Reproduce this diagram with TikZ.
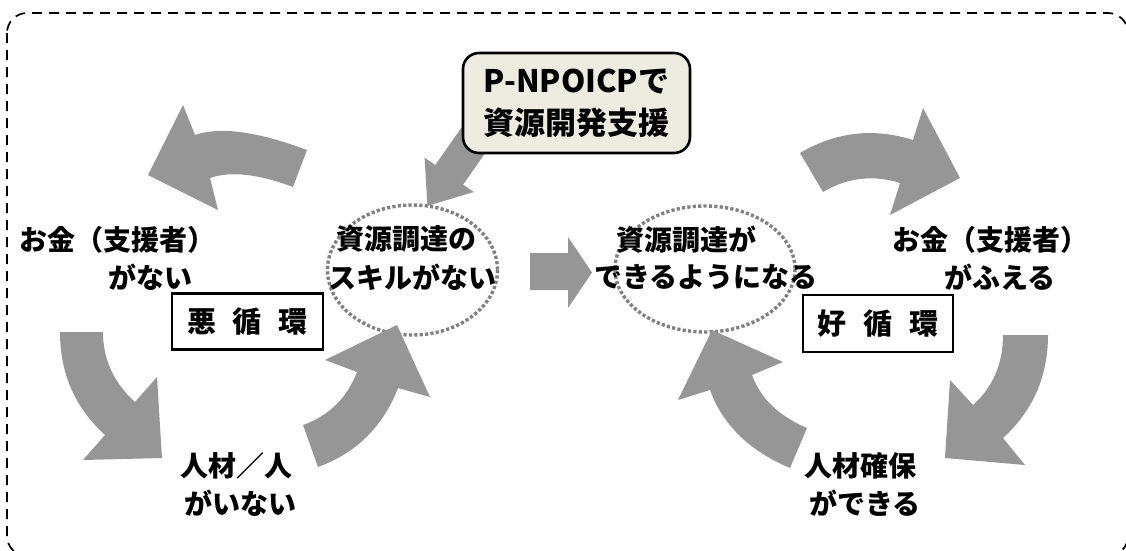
\documentclass[tikz,border=0pt]{standalone}
\usepackage{fontspec}
\setmainfont{Noto Sans CJK JP}
\usetikzlibrary{calc}
\definecolor{arrowgray}{RGB}{150,150,150}
\definecolor{dotgray}{RGB}{128,128,128}
\definecolor{boxbeige}{RGB}{238,236,225}
\newcommand{\qarrow}[9]{%
  \fill[arrowgray] (#1) .. controls ($(#1)!0.6667!(#2)$) and ($(#3)!0.6667!(#2)$) .. (#3)
    -- (#4) -- (#5) -- (#6) -- (#7)
    .. controls ($(#7)!0.6667!(#8)$) and ($(#9)!0.6667!(#8)$) .. (#9) -- cycle;}
\tikzset{
  dotcirc/.style={draw=dotgray, line width=3.4pt, dash pattern=on 3.2pt off 2.2pt},
  lbl/.style={font=\fontsize{28}{30}\selectfont\bfseries, inner sep=0pt, anchor=center},
  cyclebox/.style={draw=black, line width=2.6pt, fill=white, inner sep=0pt,
    font=\fontsize{29}{30}\selectfont\bfseries},
  npobox/.style={draw=black, line width=2.6pt, fill=boxbeige, rounded corners=16pt,
    inner sep=0pt, align=center, font=\fontsize{31}{42}\selectfont\bfseries},
  frame/.style={draw=black, line width=1.7pt, dash pattern=on 10pt off 7pt, rounded corners=20pt}
}
\begin{document}
\begin{tikzpicture}[x=1pt,y=-1pt]
\useasboundingbox (0,0) rectangle (1126,550);
% outer dashed frame
\draw[frame] (7,13) rectangle (1128,556);
% dotted circles
\draw[dotcirc] (412.5,270) ellipse [x radius=85, y radius=65];
\draw[dotcirc] (705,269) ellipse [x radius=90, y radius=63];
% left cycle arrows
\qarrow{307,150}{232,122}{195,135}{183,105}{148,175}{218,210}{210,178}{240.6,167.3}{293,187}
\qarrow{103,332}{103,373}{135,402}{157,377}{162,458}{83,460}{105,435}{60,394}{60,332}
\qarrow{303,425}{342,411}{357,372}{325,360}{397,325}{430,397}{398,388}{375.5,446}{318,467}
% right cycle arrows
\qarrow{800,153}{853.6,121.3}{913,140}{923,108}{960,178}{890,215}{900,183}{859.7,170.3}{823,192}
\qarrow{1003,335}{1003,378}{973,405}{950,380}{945,458}{1025,465}{1003,438}{1048,397}{1048,335}
\qarrow{807,428}{764.7,410}{752,375}{783,362}{712,330}{678,400}{710,390}{728.8,442}{790,468}
% middle arrow
\fill[arrowgray] (530,253) -- (568,253) -- (568,237) -- (592,272.5) -- (568,308) -- (568,290) -- (530,290) -- cycle;
% arrow from support box
\fill[arrowgray] (498.4,74.9) -- (435.3,165.0) -- (424.6,157.6) -- (427.4,205.9) -- (473.8,192.0) -- (463.1,184.6) -- (526.2,94.5) -- cycle;
% support box
\node[npobox, minimum width=227pt, minimum height=100pt] (npo) at (576.5,103) {P-NPOICPで\\資源開発支援};
% cycle boxes
\node[cyclebox, minimum width=151pt, minimum height=56pt] (bad) at (247.5,321.5) {悪\hspace{17pt}循\hspace{17pt}環};
\node[cyclebox, minimum width=150pt, minimum height=57pt] (good) at (878,323.5) {好\hspace{17pt}循\hspace{17pt}環};
% labels
\node[lbl] (l1a) at (117,240) {お金（支援者）};
\node[lbl] (l1b) at (150,277) {がない};
\node[lbl] (c1a) at (406,239) {資源調達の};
\node[lbl] (c1b) at (412,277) {スキルがない};
\node[lbl] (c2a) at (686,240) {資源調達が};
\node[lbl] (c2b) at (706,277) {できるようになる};
\node[lbl] (r1a) at (990,240) {お金（支援者）};
\node[lbl] (r1b) at (1000,277) {がふえる};
\node[lbl] (b1a) at (236,466) {人材／人};
\node[lbl] (b1b) at (240,503) {がいない};
\node[lbl] (b2a) at (860,466) {人材確保};
\node[lbl] (b2b) at (865,503) {ができる};
\end{tikzpicture}
\end{document}
